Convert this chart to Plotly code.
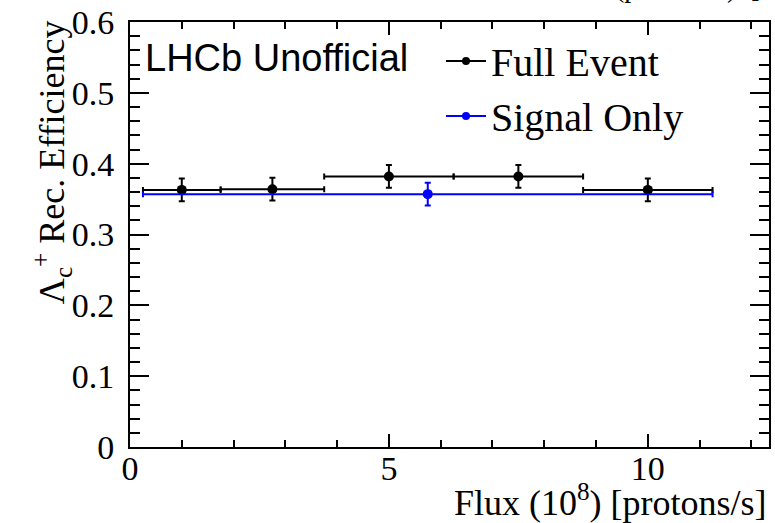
import plotly.graph_objects as go

# Efficiency vs beam flux, two reconstruction modes
flux_full = [1.0, 2.75, 5.0, 7.5, 10.0]
flux_full_halfwidth = [0.75, 1.0, 1.25, 1.25, 1.25]
eff_full = [0.363, 0.364, 0.382, 0.382, 0.363]
eff_full_err = [0.016, 0.016, 0.016, 0.016, 0.016]

flux_signal = [5.75]
flux_signal_halfwidth = [5.5]
eff_signal = [0.357]
eff_signal_err = [0.016]

x_ticks = [0, 5, 10]
y_ticks = [0, 0.1, 0.2, 0.3, 0.4, 0.5, 0.6]

SERIF = "Liberation Serif"
SANS = "Liberation Sans"
BLUE = "rgb(0,0,255)"

fig = go.Figure()

fig.add_trace(go.Scatter(
    x=flux_full, y=eff_full, mode="markers",
    marker=dict(color="black", size=10),
    error_x=dict(type="data", array=flux_full_halfwidth, color="black", thickness=2, width=3),
    error_y=dict(type="data", array=eff_full_err, color="black", thickness=2, width=3),
    showlegend=False,
))
fig.add_trace(go.Scatter(
    x=flux_signal, y=eff_signal, mode="markers",
    marker=dict(color=BLUE, size=10),
    error_x=dict(type="data", array=flux_signal_halfwidth, color=BLUE, thickness=2, width=3),
    error_y=dict(type="data", array=eff_signal_err, color=BLUE, thickness=2, width=3),
    showlegend=False,
))

# legend entries (line + marker samples)
fig.add_trace(go.Scatter(x=[None], y=[None], mode="lines+markers", name="Full Event",
                         line=dict(color="black", width=2), marker=dict(color="black", size=8)))
fig.add_trace(go.Scatter(x=[None], y=[None], mode="lines+markers", name="Signal Only",
                         line=dict(color=BLUE, width=2), marker=dict(color=BLUE, size=8)))

axis_common = dict(
    showgrid=False, zeroline=False, showline=True, linecolor="black", linewidth=2,
    mirror="allticks", ticks="inside", tickcolor="black", tickwidth=2,
    tickfont=dict(family=SERIF, size=34, color="black"),
)

fig.update_xaxes(
    range=[0, 12.34], tickvals=x_ticks, ticktext=[str(v) for v in x_ticks],
    ticklen=13, ticklabelstandoff=-10,
    minor=dict(ticks="inside", dtick=1, ticklen=7, tickcolor="black", tickwidth=2, showgrid=False),
    **axis_common,
)
fig.update_yaxes(
    range=[0, 0.6], tickvals=y_ticks, ticktext=["0"] + [f"{v:.1f}" for v in y_ticks[1:]],
    ticklen=19, ticklabelstandoff=7,
    minor=dict(ticks="inside", dtick=0.02, ticklen=10, tickcolor="black", tickwidth=2, showgrid=False),
    **axis_common,
)

fig.add_annotation(
    text="Λ<sub>c</sub><sup>+</sup> Rec. Efficiency", textangle=-90,
    xref="paper", yref="paper", x=-0.122, y=1.009, xanchor="center", yanchor="top",
    showarrow=False, font=dict(family=SERIF, size=36, color="black"),
)
fig.add_annotation(
    text="Flux (10<sup>8</sup>) [protons/s]",
    xref="paper", yref="paper", x=1.0, y=-0.125, xanchor="right", yanchor="middle",
    showarrow=False, font=dict(family=SERIF, size=36, color="black"),
)
fig.add_annotation(
    text="LHCb Unofficial",
    xref="paper", yref="paper", x=0.0200, y=0.915, xanchor="left", yanchor="middle",
    showarrow=False, font=dict(family=SANS, size=38, color="black"),
)
fig.add_annotation(
    text="(protons/s)  [10<sup>8</sup>]",
    xref="paper", yref="paper", x=0.7566, y=1.040, xanchor="left", yanchor="bottom",
    showarrow=False, font=dict(family=SERIF, size=28, color="black"),
)

fig.update_layout(
    width=775, height=523,
    margin=dict(l=130, r=4, t=22, b=76),
    paper_bgcolor="white", plot_bgcolor="white",
    legend=dict(
        x=0.4867, y=0.985, xanchor="left", yanchor="top",
        bgcolor="rgba(0,0,0,0)", font=dict(family=SERIF, size=40, color="black"),
        itemwidth=40, tracegroupgap=0,
    ),
)

fig.write_html("out.html")
